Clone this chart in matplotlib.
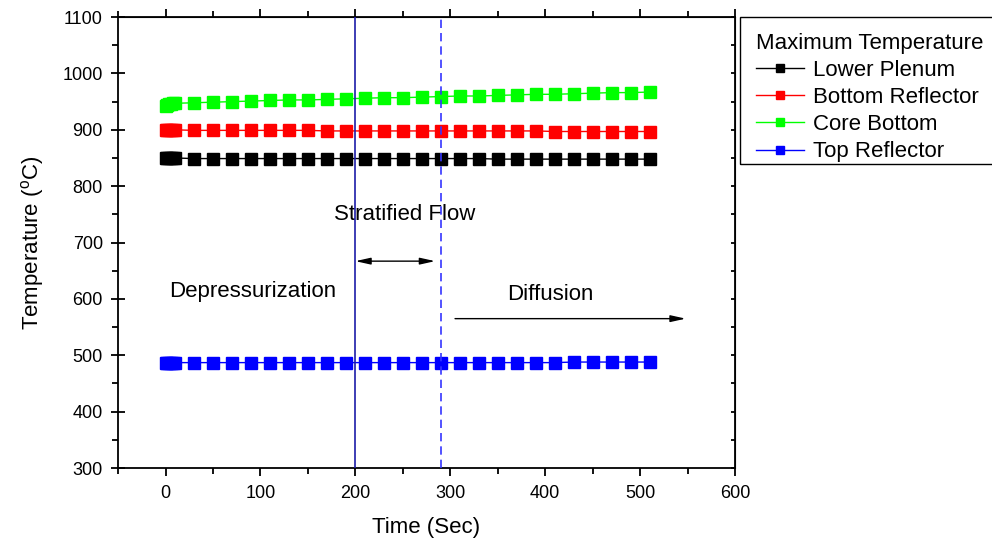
import matplotlib

matplotlib.use("Agg")
import matplotlib.pyplot as plt
from matplotlib.patches import Rectangle

plt.rcParams["font.family"] = ["Liberation Sans", "DejaVu Sans"]
plt.rcParams["mathtext.default"] = "regular"

# ---- data ----------------------------------------------------------
time_s = [0, 2, 4, 6, 8, 10,
          30, 50, 70, 90, 110, 130, 150, 170, 190, 210, 230, 250, 270,
          290, 310, 330, 350, 370, 390, 410, 430, 450, 470, 490, 510]

lower_plenum = [850, 850, 850, 850, 850, 850,
                849, 849, 849, 849, 849, 849, 849, 849, 849, 849, 849, 849,
                849, 849, 849, 849, 848, 848, 848, 848, 848, 848, 848, 848, 848]
bottom_reflector = [900, 900, 900, 900, 900, 900,
                    899, 899, 899, 899, 899, 899, 899, 898, 898, 898, 898, 898,
                    898, 898, 898, 898, 898, 898, 898, 897, 897, 897, 897, 897, 897]
core_bottom = [942, 944, 945, 946, 947, 947,
               948, 949, 950, 951, 952, 953, 953, 954, 955, 956, 957, 957,
               958, 959, 960, 960, 961, 962, 963, 963, 964, 965, 966, 966, 967]
top_reflector = [487, 487, 487, 487, 487, 487,
                 487, 487, 487, 487, 487, 487, 487, 487, 487, 487, 487, 487,
                 487, 487, 487, 487, 487, 487, 487, 487, 488, 488, 488, 488, 488]

series = [
    ("Lower Plenum", lower_plenum, "#000000"),
    ("Bottom Reflector", bottom_reflector, "#ff0000"),
    ("Core Bottom", core_bottom, "#00ff00"),
    ("Top Reflector", top_reflector, "#0000ff"),
]

stratified_start = 200
diffusion_start = 290

# ---- figure --------------------------------------------------------
fig = plt.figure(figsize=(9.92, 5.42), dpi=100)
ax = fig.add_axes([0.119, 0.1365, 0.622, 0.832])

for name, vals, c in series:
    ax.plot(time_s, vals, color=c, lw=1, marker="s", ms=8, mec=c, mfc=c,
            label=name)

ax.axvline(stratified_start, color="#1c1ca8", lw=1.2, zorder=5)
ax.axvline(diffusion_start, color="#3535ff", lw=1.2, ls=(0, (5, 3)), zorder=5)

ax.set_xlim(-50, 600)
ax.set_ylim(300, 1100)
ax.set_xticks(range(0, 601, 100))
ax.set_xticks(range(-50, 601, 100), minor=True)
ax.set_yticks(range(300, 1101, 100))
ax.set_yticks(range(350, 1100, 100), minor=True)

ax.set_xlabel("Time (Sec)", fontsize=16, labelpad=11)
ax.set_ylabel("Temperature ($^o$C)", fontsize=16, labelpad=12)

for sp in ax.spines.values():
    sp.set_linewidth(1.3)
ax.tick_params(axis="x", which="major", direction="out", length=6, width=1.3,
               labelsize=13, pad=6)
ax.tick_params(axis="x", which="minor", direction="out", length=4, width=1.3)
ax.tick_params(axis="y", which="major", direction="inout", length=10,
               width=1.3, labelsize=13, pad=6)
ax.tick_params(axis="y", which="minor", direction="out", length=4, width=1.3)

top = ax.secondary_xaxis("top")
top.set_xticks(range(0, 601, 100))
top.set_xticks(range(-50, 601, 100), minor=True)
top.tick_params(which="major", direction="out", length=6, width=1.3,
                labeltop=False)
top.tick_params(which="minor", direction="out", length=4, width=1.3)

right = ax.secondary_yaxis("right")
right.set_yticks(range(300, 1101, 100))
right.set_yticks(range(350, 1100, 100), minor=True)
right.tick_params(which="both", direction="in", length=3, width=1.3,
                  labelright=False)

# phase annotations
ax.text(92, 614, "Depressurization", fontsize=16, ha="center", va="center")
ax.text(252, 749, "Stratified Flow", fontsize=16, ha="center", va="center")
ax.text(405, 608, "Diffusion", fontsize=16, ha="center", va="center")
ax.annotate("", xy=(284, 667), xytext=(stratified_start, 667),
            arrowprops=dict(arrowstyle="<|-|>,head_length=0.9,head_width=0.2",
                            color="k", lw=1, shrinkA=0, shrinkB=0))
ax.annotate("", xy=(548, 565), xytext=(305, 565),
            arrowprops=dict(arrowstyle="-|>,head_length=0.9,head_width=0.2",
                            color="k", lw=1, shrinkA=0, shrinkB=0))

# legend content without its own frame; box drawn separately (tighter bottom)
fig.legend(loc="upper left", bbox_to_anchor=(740 / 992, 1 - 17 / 542),
           borderaxespad=0, fontsize=16, title="Maximum Temperature",
           title_fontsize=16, alignment="left", frameon=False,
           markerscale=0.75, handlelength=2.2, handletextpad=0.4,
           labelspacing=0.28, borderpad=0.7)
fig.add_artist(Rectangle((740 / 992, 1 - 164 / 542), 260 / 992, 147 / 542,
                         transform=fig.transFigure, fill=False, ec="k", lw=1))

fig.savefig("out.png", dpi=100)
